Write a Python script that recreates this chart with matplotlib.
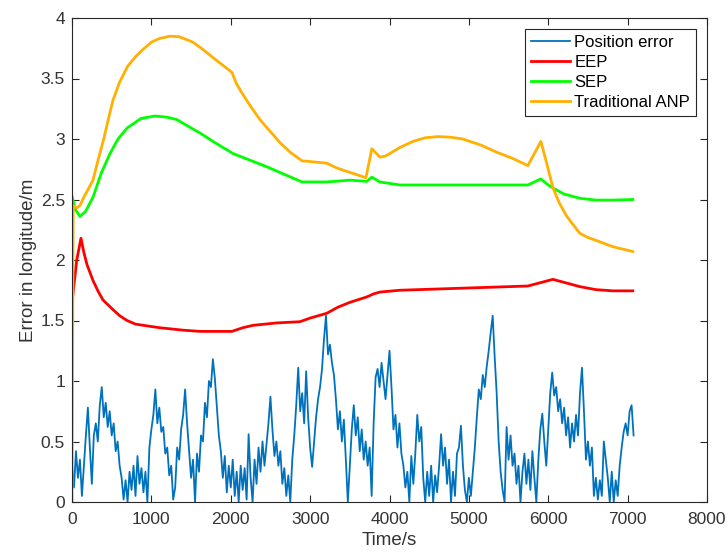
import numpy as np
import matplotlib
matplotlib.use('Agg')
from matplotlib import pyplot as plt
from matplotlib.ticker import FuncFormatter

plt.rcParams['font.family'] = ['Liberation Sans', 'DejaVu Sans']

pos_step = 25
pos_err = [
    0.30, 0.12, 0.42, 0.20, 0.35, 0.05, 0.30, 0.55, 0.78, 0.45,
    0.15, 0.55, 0.65, 0.50, 0.80, 0.95, 0.70, 0.82, 0.62, 0.75,
    0.55, 0.65, 0.42, 0.50, 0.30, 0.20, 0.02, 0.18, 0.00, 0.25,
    0.10, 0.30, 0.05, 0.38, 0.15, 0.28, 0.08, 0.25, 0.00, 0.45,
    0.60, 0.72, 0.93, 0.65, 0.78, 0.58, 0.62, 0.40, 0.45, 0.22,
    0.30, 0.02, 0.12, 0.45, 0.35, 0.60, 0.72, 0.93, 0.65, 0.42,
    0.20, 0.35, 0.00, 0.40, 0.25, 0.55, 0.50, 0.82, 0.70, 1.00,
    0.95, 1.18, 1.02, 0.78, 0.55, 0.42, 0.20, 0.38, 0.08, 0.30,
    0.12, 0.35, 0.05, 0.25, 0.00, 0.30, 0.10, 0.28, 0.02, 0.56,
    0.20, 0.00, 0.35, 0.15, 0.45, 0.25, 0.50, 0.30, 0.48, 0.65,
    0.87, 0.60, 0.38, 0.50, 0.30, 0.42, 0.15, 0.28, 0.05, 0.22,
    0.00, 0.35, 0.55, 0.80, 1.11, 0.75, 0.90, 0.65, 1.08, 0.70,
    0.45, 0.29, 0.50, 0.70, 0.85, 0.95, 1.10, 1.35, 1.54, 1.22,
    1.30, 1.15, 1.05, 0.85, 0.60, 0.75, 0.50, 0.68, 0.35, 0.00,
    0.30, 0.60, 0.80, 0.55, 0.70, 0.42, 0.60, 0.35, 0.50, 0.30,
    0.45, 0.05, 0.65, 1.03, 1.10, 0.95, 1.15, 1.00, 0.85, 1.05,
    1.25, 0.95, 0.60, 0.72, 0.45, 0.65, 0.40, 0.30, 0.12, 0.25,
    0.00, 0.38, 0.15, 0.40, 0.72, 0.50, 0.62, 0.20, 0.00, 0.25,
    0.05, 0.30, 0.00, 0.22, 0.08, 0.30, 0.56, 0.30, 0.45, 0.15,
    0.35, 0.00, 0.25, 0.05, 0.40, 0.45, 0.63, 0.30, 0.10, 0.00,
    0.20, 0.05, 0.25, 0.45, 0.70, 0.93, 0.85, 1.05, 0.95, 1.12,
    1.25, 1.40, 1.54, 1.20, 0.90, 0.50, 0.25, 0.10, 0.00, 0.62,
    0.35, 0.55, 0.30, 0.40, 0.15, 0.30, 0.00, 0.25, 0.40, 0.15,
    0.35, 0.10, 0.42, 0.20, 0.00, 0.35, 0.60, 0.73, 0.50, 0.30,
    0.60, 0.90, 1.07, 0.88, 0.95, 0.75, 0.85, 0.65, 0.78, 0.55,
    0.70, 0.45, 0.65, 0.50, 0.72, 0.55, 0.90, 1.11, 0.75, 0.35,
    0.50, 0.30, 0.45, 0.05, 0.20, 0.02, 0.18, 0.05, 0.50, 0.35,
    0.20, 0.00, 0.25, 0.00, 0.18, 0.05, 0.30, 0.45, 0.58, 0.65,
    0.55, 0.75, 0.80, 0.55,
]
pos_t = np.arange(len(pos_err)) * pos_step

eep_t = [0, 60, 113, 150, 190, 265, 330, 390, 516, 600, 693, 800, 900, 1108,
         1400, 1612, 2015, 2150, 2280, 2580, 2872, 3000, 3211, 3350, 3501, 3715,
         3800, 3879, 4131, 5743, 6058, 6200, 6398, 6600, 6814, 7065]
eep = [1.65, 2.00, 2.18, 2.06, 1.96, 1.83, 1.74, 1.67, 1.59, 1.54, 1.50, 1.47, 1.46, 1.44,
       1.42, 1.41, 1.41, 1.44, 1.46, 1.48, 1.49, 1.52, 1.56, 1.61, 1.65, 1.695,
       1.72, 1.735, 1.75, 1.785, 1.84, 1.815, 1.78, 1.755, 1.745, 1.745]

sep_t = [0, 40, 100, 170, 265, 370, 479, 580, 693, 870, 1045, 1200, 1322, 1450,
         1612, 1800, 2028, 2456, 2897, 3211, 3501, 3715, 3778, 3879, 4131, 4295,
         5743, 5907, 5980, 6058, 6200, 6398, 6600, 6814, 7065]
sep = [2.53, 2.42, 2.36, 2.40, 2.52, 2.72, 2.88, 3.00, 3.09, 3.17, 3.19, 3.18, 3.16, 3.11,
       3.05, 2.97, 2.88, 2.77, 2.645, 2.645, 2.66, 2.65, 2.685, 2.645, 2.62, 2.62,
       2.62, 2.67, 2.63, 2.595, 2.545, 2.51, 2.495, 2.495, 2.50]

anp_t = [0, 15, 60, 100, 150, 200, 265, 330, 400, 460, 516, 600, 700, 800, 894,
         1000, 1100, 1234, 1350, 1450, 1524, 1650, 1800, 1900, 2015, 2070, 2141,
         2250, 2368, 2500, 2620, 2750, 2897, 3211, 3337, 3703, 3778, 3879, 3950,
         4005, 4131, 4295, 4450, 4610, 4770, 4924, 5150, 5353, 5550, 5743, 5907,
         5980, 6058, 6140, 6234, 6398, 6486, 6650, 6814, 7065]
anp = [0, 2.45, 2.43, 2.45, 2.52, 2.58, 2.66, 2.83, 3.00, 3.17, 3.32, 3.47, 3.60, 3.68, 3.74,
       3.80, 3.83, 3.85, 3.845, 3.82, 3.80, 3.74, 3.66, 3.61, 3.55, 3.46, 3.38,
       3.27, 3.16, 3.06, 2.97, 2.89, 2.82, 2.80, 2.76, 2.68, 2.92, 2.85, 2.86,
       2.88, 2.93, 2.98, 3.01, 3.02, 3.015, 3.00, 2.95, 2.89, 2.84, 2.78, 2.98,
       2.80, 2.60, 2.47, 2.36, 2.22, 2.19, 2.15, 2.11, 2.07]

labels = ['Position error', 'EEP', 'SEP', 'Traditional ANP']
colors = ['#0072BD', '#FF0000', '#00FF00', '#FFB000']

fig = plt.figure(figsize=(7.28, 5.56), dpi=100)
ax = fig.add_axes([72 / 728, 1 - 502 / 556, 635 / 728, 484 / 556])

ax.plot(pos_t, pos_err, color=colors[0], lw=1.3, label=labels[0])
ax.plot(eep_t, eep, color=colors[1], lw=2.0, label=labels[1])
ax.plot(sep_t, sep, color=colors[2], lw=2.0, label=labels[2])
ax.plot(anp_t, anp, color=colors[3], lw=2.0, label=labels[3])

ax.set_xlim(0, 8000)
ax.set_ylim(0, 4)
ax.set_xticks(np.arange(0, 8001, 1000))
ax.set_yticks(np.arange(0, 4.01, 0.5))
ax.yaxis.set_major_formatter(FuncFormatter(lambda v, p: '%g' % v))

txt = '#333333'
ax.tick_params(direction='in', top=True, right=True, length=5, width=0.8,
               colors='#262626', labelcolor=txt, labelsize=12.5)
ax.tick_params(axis='x', pad=7)
ax.tick_params(axis='y', pad=5)
for s in ax.spines.values():
    s.set_color('#262626')
    s.set_linewidth(0.8)

ax.set_xlabel('Time/s', fontsize=13.5, color=txt, labelpad=4)
ax.set_ylabel('Error in longitude/m', fontsize=13.5, color=txt, labelpad=3)

leg = ax.legend(loc='upper right', bbox_to_anchor=(624 / 635, 1 - 11 / 484),
                borderaxespad=0, fontsize=12, handlelength=2.35, handletextpad=0.25,
                labelspacing=0.3, borderpad=0.35, fancybox=False, framealpha=1)
leg.get_frame().set_edgecolor('#262626')
leg.get_frame().set_linewidth(0.8)
for t in leg.get_texts():
    t.set_color('black')

fig.savefig('out.png', dpi=100)
